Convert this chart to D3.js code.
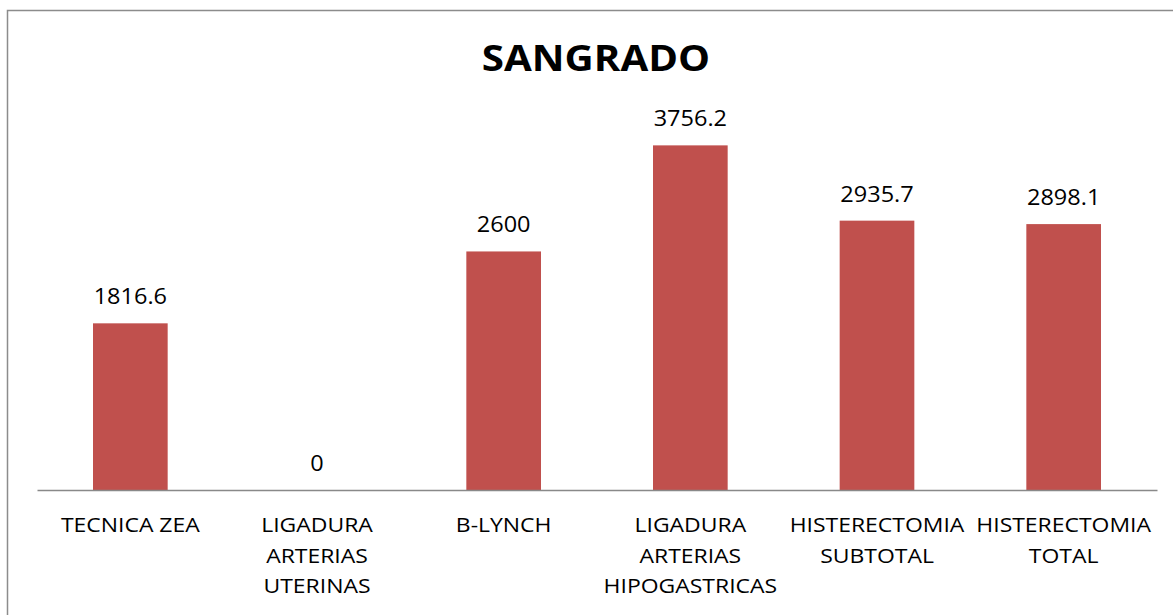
<!DOCTYPE html>
<html>
<head>
<meta charset="utf-8">
<script src="https://cdn.jsdelivr.net/npm/d3@7"></script>
<style>
  body { margin: 0; background: #fff; }
  text { font-family: "Open Sans", "Liberation Sans", sans-serif; fill: #000; }
</style>
</head>
<body>
<script>
// chart data
const categories = ["TECNICA ZEA", "LIGADURA ARTERIAS UTERINAS", "B-LYNCH",
  "LIGADURA ARTERIAS HIPOGASTRICAS", "HISTERECTOMIA SUBTOTAL", "HISTERECTOMIA TOTAL"];
const labelLines = [["TECNICA ZEA"], ["LIGADURA", "ARTERIAS", "UTERINAS"], ["B-LYNCH"],
  ["LIGADURA", "ARTERIAS", "HIPOGASTRICAS"], ["HISTERECTOMIA", "SUBTOTAL"], ["HISTERECTOMIA", "TOTAL"]];
const values = [1816.6, 0, 2600, 3756.2, 2935.7, 2898.1];
const valueLabels = ["1816.6", "0", "2600", "3756.2", "2935.7", "2898.1"];
const yMax = 4000;
const title = "SANGRADO";

const W = 1173, H = 615;
const plot = {left: 37, right: 1157, top: 123, bottom: 490};
const stretch = 1.12; // the source picture is a bit wide

const svg = d3.select("body").append("svg")
  .attr("width", W)
  .attr("height", H);

// outer chart border (only top and left are inside the picture)
svg.append("rect")
  .attr("x", 7.5).attr("y", 10.5)
  .attr("width", W + 20).attr("height", H + 20)
  .attr("fill", "#fff")
  .attr("stroke", "#8c8c8c")
  .attr("stroke-width", 1.5);

const x = d3.scaleBand()
  .domain(categories)
  .range([plot.left, plot.right])
  .paddingInner(0.6)
  .paddingOuter(0.3);

const y = d3.scaleLinear()
  .domain([0, yMax])
  .range([plot.bottom, plot.top]);

// title
svg.append("text")
  .attr("transform", `translate(${(plot.left + plot.right) / 2 - 1},71) scale(${stretch},1)`)
  .attr("text-anchor", "middle")
  .style("font-size", "36px")
  .style("font-weight", "bold")
  .text(title);

// bars
svg.selectAll(".bar")
  .data(values)
  .enter()
  .append("rect")
  .attr("class", "bar")
  .attr("x", (d, i) => x(categories[i]))
  .attr("y", d => y(d))
  .attr("width", x.bandwidth())
  .attr("height", d => y(0) - y(d))
  .attr("fill", "#c0504d");

// value labels
svg.selectAll(".val")
  .data(values)
  .enter()
  .append("text")
  .attr("class", "val")
  .attr("transform", (d, i) => `translate(${x(categories[i]) + x.bandwidth() / 2},${y(d) - 19}) scale(${stretch},1)`)
  .attr("text-anchor", "middle")
  .style("font-size", "21px")
  .text((d, i) => valueLabels[i]);

// axis line
svg.append("g")
  .attr("transform", `translate(0,${plot.bottom})`)
  .call(d3.axisBottom(x).tickSize(0).tickFormat(""))
  .call(g => g.select(".domain").attr("stroke", "#898989").attr("stroke-width", 1.5));

// category labels
labelLines.forEach((lines, i) => {
  const cx = x(categories[i]) + x.bandwidth() / 2;
  lines.forEach((line, j) => {
    svg.append("text")
      .attr("transform", `translate(${cx},${532 + j * 30.5}) scale(${stretch},1)`)
      .attr("text-anchor", "middle")
      .style("font-size", "20.5px")
      .text(line);
  });
});
</script>
</body>
</html>
